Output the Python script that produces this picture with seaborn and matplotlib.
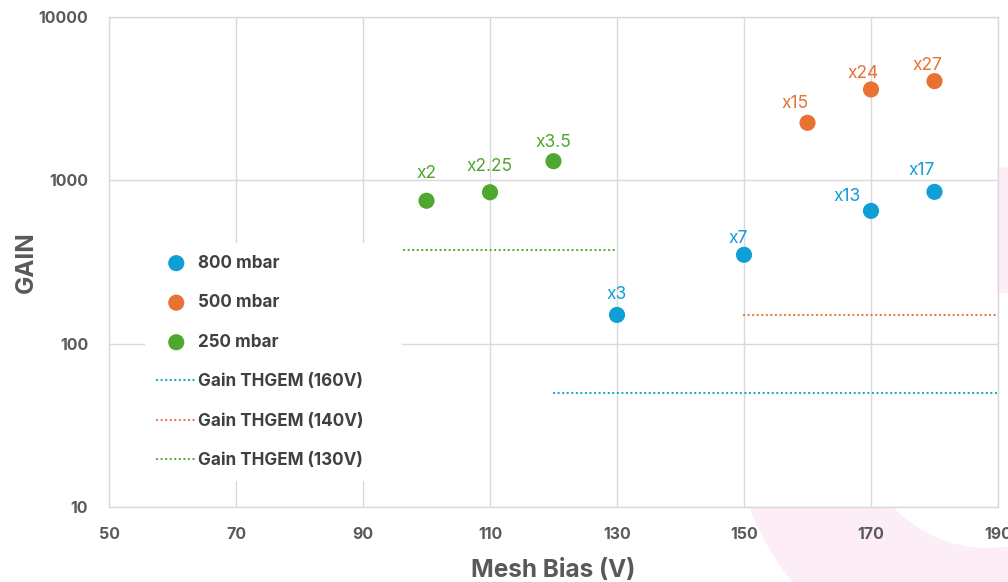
import matplotlib
matplotlib.use("Agg")
import matplotlib.pyplot as plt
from matplotlib.patches import Wedge
import numpy as np
import pandas as pd
import seaborn as sns

# Measured gain per drift pressure
bias_800 = [130, 150, 170, 180]
gain_800 = [150, 350, 650, 850]
ratio_800 = ["x3", "x7", "x13", "x17"]

bias_500 = [160, 170, 180]
gain_500 = [2250, 3600, 4050]
ratio_500 = ["x15", "x24", "x27"]

bias_250 = [100, 110, 120]
gain_250 = [750, 845, 1310]
ratio_250 = ["x2", "x2.25", "x3.5"]

# Reference THGEM-only gain levels
thgem_labels = ["Gain THGEM (160V)", "Gain THGEM (140V)", "Gain THGEM (130V)"]
thgem_gain = [50, 150, 375]
thgem_span = [(120, 190), (150, 190), (90, 130)]

series_labels = ["800 mbar", "500 mbar", "250 mbar"]

x_ticks = [50, 70, 90, 110, 130, 150, 170, 190]
y_ticks = [10, 100, 1000, 10000]

# Styling
colors = ["#0F9ED5", "#E97132", "#4EA72E"]
text_grey = "#595959"
grid_grey = "#D9D9D9"
pink = "#FCEDF7"
# label offsets in pixels (dx, dy) per point
offs_800 = [(0, 20), (-6, 16), (-24, 14), (-13, 21)]
offs_500 = [(-12, 19), (-8, 16), (-7, 16)]
offs_250 = [(0, 27), (0, 26), (0, 19)]

sns.set_theme(style="white")
plt.rcParams["font.family"] = ["Inter", "DejaVu Sans"]

fig = plt.figure(figsize=(10.08, 5.82), dpi=100)
fig.patch.set_facecolor("white")

# decorative ring in the lower right corner of the page
ring = Wedge((9.87, 1.62), 2.53, 0, 360, width=1.25, transform=fig.dpi_scale_trans,
             facecolor=pink, edgecolor="none", zorder=0)
fig.add_artist(ring)

ax = fig.add_axes([109 / 1008, 1 - 507 / 582, (998 - 109) / 1008, (507 - 17) / 582])
ax.set_facecolor("white")
ax.set_zorder(1)

frames = [
    pd.DataFrame({"bias": bias_800, "gain": gain_800}),
    pd.DataFrame({"bias": bias_500, "gain": gain_500}),
    pd.DataFrame({"bias": bias_250, "gain": gain_250}),
]
for df, c, lab in zip(frames, colors, series_labels):
    sns.scatterplot(data=df, x="bias", y="gain", color=c, s=135, edgecolor="none",
                    label=lab, ax=ax, zorder=4)

for lab, g, (x0, x1), c in zip(thgem_labels, thgem_gain, thgem_span, colors):
    ldf = pd.DataFrame({"bias": [x0, x1], "gain": [g, g]})
    sns.lineplot(data=ldf, x="bias", y="gain", color=c, lw=1.6,
                 linestyle=(0, (0.05, 2.0)), label=lab, ax=ax, zorder=3)
for ln in ax.lines:
    ln.set_dash_capstyle("round")

# ratio annotations
for xs, ys, labs, offs, c in [(bias_800, gain_800, ratio_800, offs_800, colors[0]),
                              (bias_500, gain_500, ratio_500, offs_500, colors[1]),
                              (bias_250, gain_250, ratio_250, offs_250, colors[2])]:
    for x, y, t, (dx, dy) in zip(xs, ys, labs, offs):
        ax.annotate(t, (x, y), xytext=(dx, dy), textcoords="offset pixels",
                    ha="center", va="center", color=c, fontsize=12.5, zorder=5)

ax.set_yscale("log")
ax.set_xlim(50, 190)
ax.set_ylim(10, 10000)
ax.set_xticks(x_ticks)
ax.set_xticklabels([str(v) for v in x_ticks])
ax.set_yticks(y_ticks)
ax.set_yticklabels([str(v) for v in y_ticks])
ax.yaxis.set_minor_locator(matplotlib.ticker.NullLocator())
ax.grid(True, which="major", color=grid_grey, lw=1.0, zorder=0)
ax.set_axisbelow(True)
for sp in ax.spines.values():
    sp.set_color(grid_grey)
    sp.set_linewidth(1.0)

ax.tick_params(axis="both", length=0, labelsize=11.5, labelcolor=text_grey)
ax.tick_params(axis="x", pad=14.5)
ax.tick_params(axis="y", pad=15)
for lbl in ax.get_xticklabels() + ax.get_yticklabels():
    lbl.set_fontweight("bold")
    lbl.set_clip_on(False)

ax.set_xlabel("Mesh Bias (V)", fontsize=17.5, fontweight="bold", color=text_grey, labelpad=12)
ax.set_ylabel("GAIN", fontsize=17.5, fontweight="bold", color=text_grey, labelpad=0.5)

leg_left, leg_right, leg_top = 145 / 1008, 402 / 1008, 1 - 243 / 582
leg = ax.legend(loc="upper left", mode="expand",
                bbox_to_anchor=(leg_left, leg_top - 0.4, leg_right - leg_left, 0.4),
                bbox_transform=fig.transFigure, borderaxespad=0, frameon=True,
                facecolor="white", edgecolor="none", framealpha=1, fancybox=False,
                handlelength=2.3, handletextpad=0.1, labelspacing=1.32, borderpad=0.68,
                prop={"weight": "bold", "size": 12.3})
leg.set_zorder(10)
for t in leg.get_texts():
    t.set_color("#404040")

fig.savefig("out.png", dpi=100, facecolor="white")
